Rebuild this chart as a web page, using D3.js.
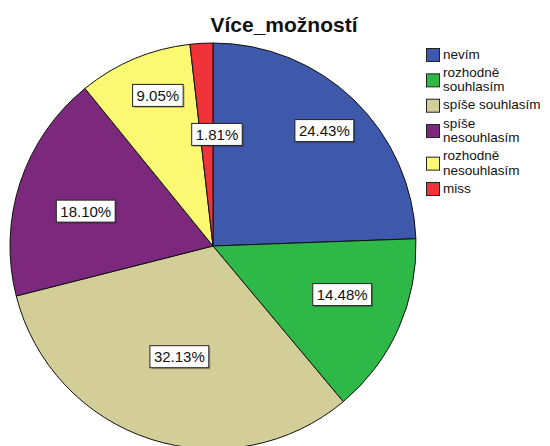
<!DOCTYPE html>
<html>
<head>
<meta charset="utf-8">
<script src="https://cdn.jsdelivr.net/npm/d3@7"></script>
<style>
  html, body { margin: 0; padding: 0; background: #fff; }
  svg { display: block; }
</style>
</head>
<body>
<script>
// ---- data ----
const title = "Více_možností";
const categories = ["nevím", "rozhodně souhlasím", "spíše souhlasím", "spíše nesouhlasím", "rozhodně nesouhlasím", "miss"];
const percents = [24.43, 14.48, 32.13, 18.10, 9.05, 1.81];
const colors = ["#3E58AC", "#2EB848", "#D3CE97", "#7C287D", "#FBF873", "#EF3338"];

// ---- layout ----
const W = 550, H = 446;
const cx = 213, cy = 246, R = 203;
const labelRadius = [0.79, 0.68, 0.57, 0.65, 0.79, 0.55];
const labelAngleShift = [0, -3.4, -1, -3, 2.7, 5.3]; // degrees

const svg = d3.select("body").append("svg").attr("width", W).attr("height", H);

const data = categories.map((c, i) => ({ name: c, value: percents[i], color: colors[i], i }));
const pie = d3.pie().sort(null).value(d => d.value).startAngle(0).endAngle(2 * Math.PI);
const arcs = pie(data);
const arc = d3.arc().innerRadius(0).outerRadius(R);

const g = svg.append("g").attr("transform", `translate(${cx},${cy})`);
g.selectAll("path.slice").data(arcs).enter().append("path")
  .attr("class", "slice")
  .attr("d", arc)
  .attr("fill", d => d.data.color)
  .attr("stroke", "#111")
  .attr("stroke-width", 1)
  .attr("stroke-linejoin", "round");

// labels
const fmt = v => v.toFixed(2) + "%";
const lbl = g.selectAll("g.lbl").data(arcs).enter().append("g").attr("class", "lbl")
  .attr("transform", d => {
    const i = d.data.i;
    const a = (d.startAngle + d.endAngle) / 2 + labelAngleShift[i] * Math.PI / 180;
    const r = R * labelRadius[i];
    return `translate(${r * Math.sin(a)},${-r * Math.cos(a)})`;
  });
lbl.each(function(d) {
  const s = d3.select(this);
  const t = s.append("text")
    .attr("text-anchor", "middle")
    .attr("dy", "0.36em")
    .style("font-family", "'Liberation Sans', Arial, sans-serif")
    .style("font-size", "15px")
    .attr("fill", "#111")
    .text(fmt(d.data.value));
  const w = t.node().getComputedTextLength() + 8;
  const h = 22;
  s.insert("rect", "text").attr("x", -w / 2 + 1.5).attr("y", -h / 2 + 1.5).attr("width", w).attr("height", h)
    .attr("fill", "rgba(0,0,0,0.25)");
  s.insert("rect", "text").attr("x", -w / 2).attr("y", -h / 2).attr("width", w).attr("height", h)
    .attr("fill", "#fff").attr("stroke", "#222").attr("stroke-width", 1);
});

// title
svg.append("text")
  .attr("x", 284).attr("y", 32)
  .attr("text-anchor", "middle")
  .style("font-family", "'Liberation Sans', Arial, sans-serif")
  .style("font-size", "21px")
  .style("font-weight", "bold")
  .attr("fill", "#111")
  .text(title);

// legend
const legX = 426, textX = 443, maxW = 107, lh = 14.5, gap = 3.6, fs = 13.5;
const leg = svg.append("g");
const measure = leg.append("text").style("font-family", "'Liberation Sans', Arial, sans-serif").style("font-size", fs + "px");
function wrap(str) {
  const words = str.split(" ");
  const lines = [];
  let cur = "";
  words.forEach(w => {
    const test = cur ? cur + " " + w : w;
    measure.text(test);
    if (cur && measure.node().getComputedTextLength() > maxW) { lines.push(cur); cur = w; }
    else cur = test;
  });
  if (cur) lines.push(cur);
  return lines;
}
let centerY = 54.5;
let prevH = null;
data.forEach((d, i) => {
  const lines = wrap(d.name);
  const h = lines.length * lh + gap;
  if (prevH !== null) centerY += (prevH + h) / 2;
  prevH = h;
  leg.append("rect").attr("x", legX + 0.5).attr("y", centerY - 6.5 + 0.5).attr("width", 13).attr("height", 13)
    .attr("fill", d.color).attr("stroke", "#222").attr("stroke-width", 1);
  const blockTop = centerY - lines.length * lh / 2;
  lines.forEach((ln, k) => {
    leg.append("text").attr("x", textX).attr("y", blockTop + (k + 1) * lh - 3)
      .style("font-family", "'Liberation Sans', Arial, sans-serif").style("font-size", fs + "px").attr("fill", "#111")
      .text(ln);
  });
});
measure.remove();
</script>
</body>
</html>
